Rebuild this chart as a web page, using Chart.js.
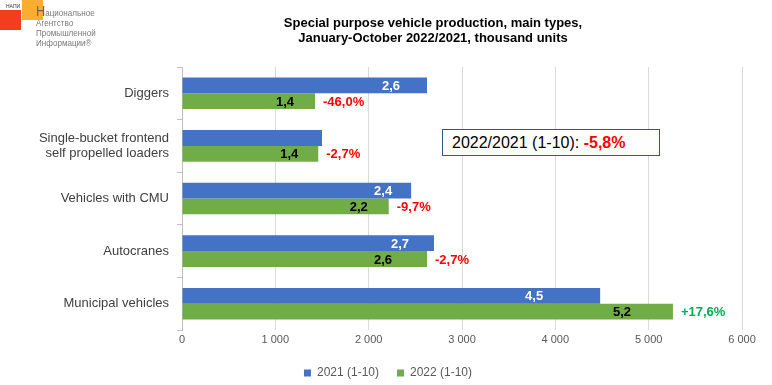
<!DOCTYPE html>
<html>
<head>
<meta charset="utf-8">
<script src="https://cdn.jsdelivr.net/npm/chart.js@4.4.1/dist/chart.umd.min.js"></script>
<style>
  body { margin: 0; background: #fff; font-family: "Liberation Sans", Arial, sans-serif; }
  #wrap { position: relative; width: 772px; height: 385px; }
  #title { position: absolute; left: 183px; width: 500px; top: 15px; text-align: center;
           font-weight: bold; font-size: 13px; line-height: 15px; color: #000; }
  #note { position: absolute; left: 442px; top: 129px; width: 218px; height: 27px; box-sizing: border-box;
          border: 1px solid #2F5597; background: #fff; font-size: 16px; line-height: 25px; padding-left: 9px; color: #000; }
  #note b { color: #FF0000; }
  .logo-red { position: absolute; left: 0; top: 10px; width: 21px; height: 20px; background: #F23E1C; }
  .logo-org { position: absolute; left: 22px; top: 0; width: 21px; height: 20px; background: #F9AE32; }
  .logo-abbr { position: absolute; left: 6px; top: 3px; font-size: 5px; color: #333; }
  .logo-text { position: absolute; left: 36px; top: 6px; font-size: 9.5px; line-height: 10px; color: #7a7a7a;
               transform: scaleX(0.85); transform-origin: left top; white-space: nowrap; }
  .logo-text span { font-size: 15px; color: #666; }
</style>
</head>
<body>
<div id="wrap">
  <canvas id="chart" width="772" height="385"></canvas>
  <div class="logo-red"></div>
  <div class="logo-org"></div>
  <div class="logo-abbr">НАПИ</div>
  <div class="logo-text"><span>Н</span>ациональное<br>Агентство<br>Промышленной<br>Информации®</div>
  <div id="title">Special purpose vehicle production, main types,<br>January-October 2022/2021, thousand units</div>
  <div id="note">2022/2021 (1-10): <b>-5,8%</b></div>
</div>
<script>
// Kategorien und Werte (Tsd. Stück)
const categories = [
  'Diggers',
  ['Single-bucket frontend', 'self propelled loaders'],
  'Vehicles with CMU',
  'Autocranes',
  'Municipal vehicles'
];
const values2021 = [2625, 1500, 2455, 2700, 4480];
const values2022 = [1425, 1460, 2215, 2625, 5260];
const labels2021 = ['2,6', '', '2,4', '2,7', '4,5'];
const labels2022 = ['1,4', '1,4', '2,2', '2,6', '5,2'];
const changeLabels = ['-46,0%', '-2,7%', '-9,7%', '-2,7%', '+17,6%'];
const xTicks = [0, 1000, 2000, 3000, 4000, 5000, 6000];

const blue = '#4472C4';
const green = '#70AD47';

Chart.defaults.font.family = '"Liberation Sans", Arial, sans-serif';

// Beschriftungen an den Balken
const barLabels = {
  id: 'barLabels',
  afterDatasetsDraw(chart, args, opts) {
    const ctx = chart.ctx;
    ctx.save();
    ctx.font = 'bold 13px "Liberation Sans", Arial, sans-serif';
    ctx.textBaseline = 'middle';
    chart.getDatasetMeta(0).data.forEach((bar, i) => {
      if (!labels2021[i]) return;
      ctx.textAlign = 'center';
      ctx.fillStyle = '#ffffff';
      ctx.fillText(labels2021[i], bar.x - opts.inset2021[i], bar.y + 1);
    });
    chart.getDatasetMeta(1).data.forEach((bar, i) => {
      ctx.textAlign = 'center';
      ctx.fillStyle = '#000000';
      ctx.fillText(labels2022[i], bar.x - opts.inset2022[i], bar.y + 1);
      ctx.textAlign = 'left';
      ctx.fillStyle = changeLabels[i].startsWith('+') ? '#00B050' : '#FF0000';
      ctx.fillText(changeLabels[i], bar.x + 8, bar.y + 1);
    });
    ctx.restore();
  }
};

new Chart(document.getElementById('chart').getContext('2d'), {
  type: 'bar',
  data: {
    labels: categories,
    datasets: [
      { label: '2021 (1-10)', data: values2021, backgroundColor: blue, borderWidth: 0,
        barPercentage: 1.0, categoryPercentage: 0.6 },
      { label: '2022 (1-10)', data: values2022, backgroundColor: green, borderWidth: 0,
        barPercentage: 1.0, categoryPercentage: 0.6 }
    ]
  },
  options: {
    indexAxis: 'y',
    responsive: false,
    animation: false,
    layout: { padding: { top: 67, left: 34, right: 30, bottom: -4 } },
    scales: {
      x: {
        min: 0,
        max: 6000,
        afterBuildTicks: (scale) => { scale.ticks = xTicks.map(v => ({ value: v })); },
        afterFit: (scale) => { scale.height = 19; },
        grid: { color: '#d9d9d9', drawTicks: false },
        border: { display: false },
        ticks: {
          padding: 3,
          color: '#595959',
          font: { size: 11 },
          callback: (v) => String(v).replace(/\B(?=(\d{3})+(?!\d))/g, ' ')
        }
      },
      y: {
        afterFit: (scale) => { scale.width = 148; },
        grid: { drawOnChartArea: false, color: '#bfbfbf', tickLength: 5 },
        border: { color: '#bfbfbf' },
        ticks: { padding: 8, color: '#404040', font: { size: 13 } }
      }
    },
    plugins: {
      title: { display: false },
      tooltip: { enabled: false },
      legend: {
        position: 'bottom',
        labels: { boxWidth: 7, boxHeight: 7, padding: 18, color: '#595959', font: { size: 12 } }
      },
      barLabels: {
        inset2021: [36, 0, 28, 34, 66],
        inset2022: [30, 29, 30, 44, 51]
      }
    }
  },
  plugins: [barLabels]
});
</script>
</body>
</html>
